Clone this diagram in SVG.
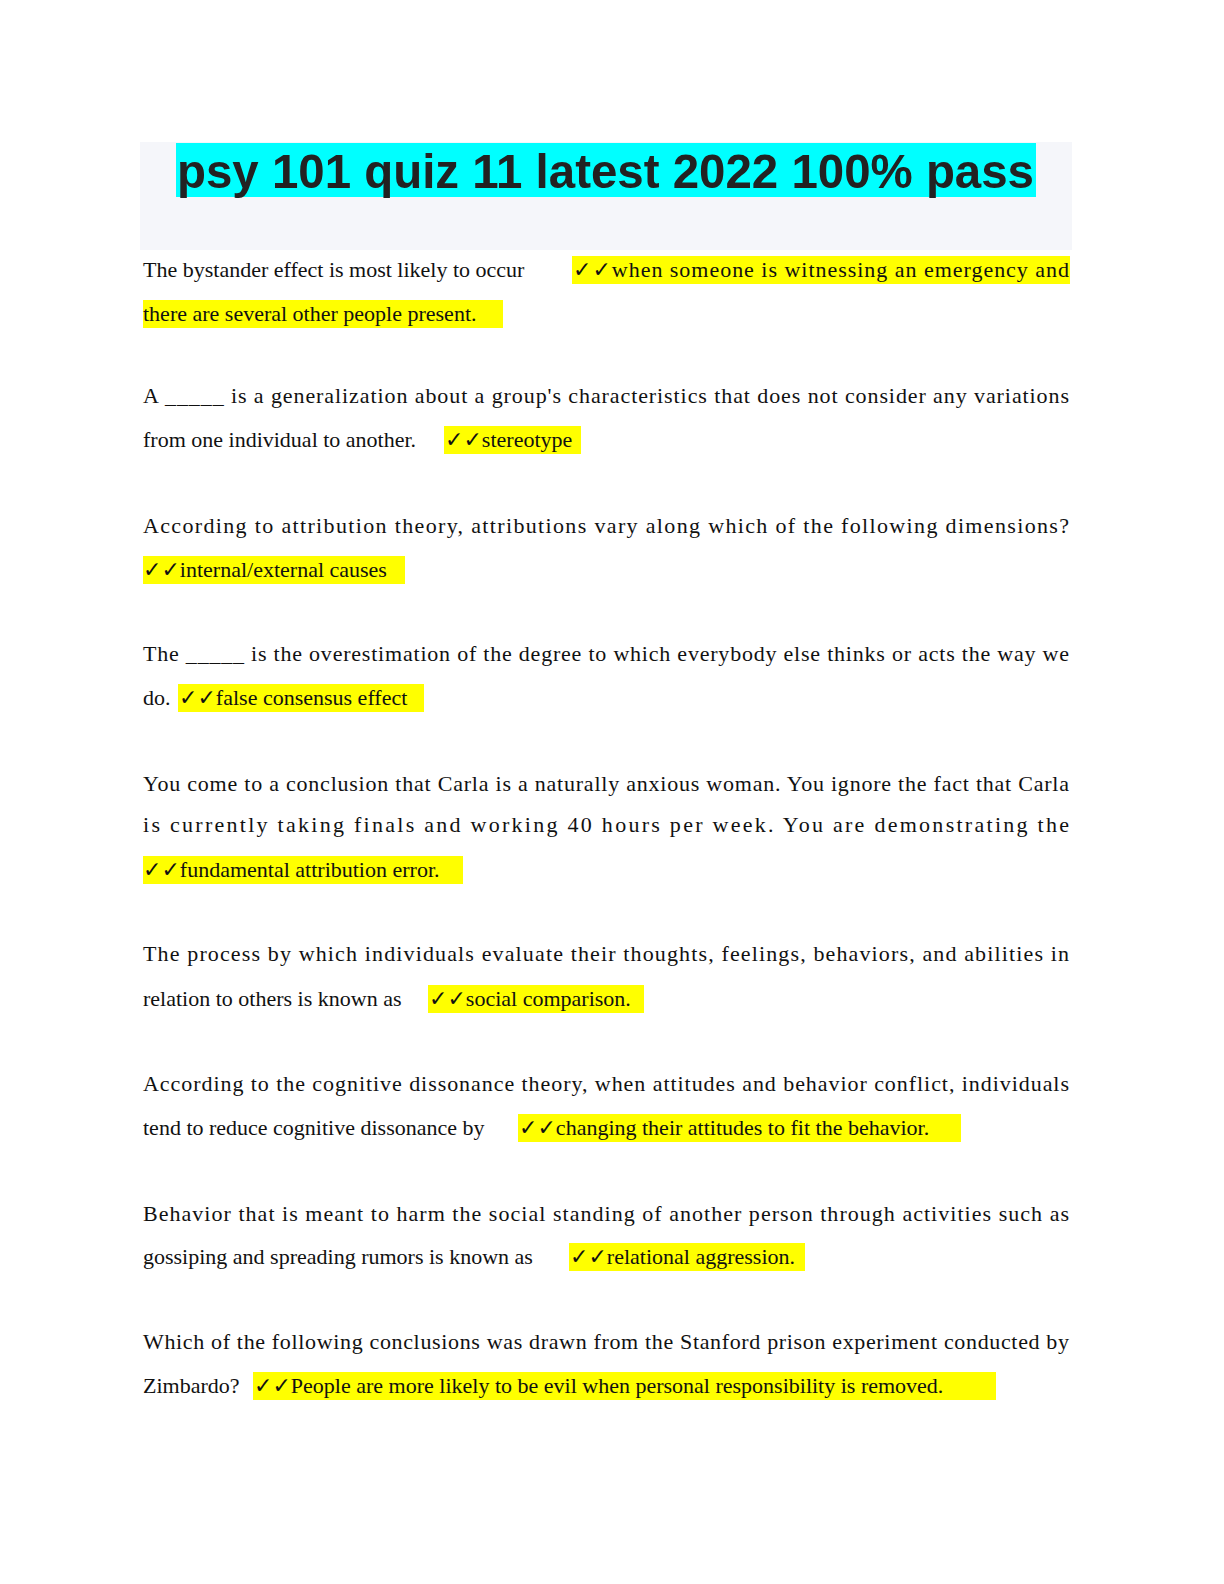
<svg xmlns="http://www.w3.org/2000/svg" width="1224" height="1584" viewBox="0 0 1224 1584">
<style>
.t{font-family:"Liberation Serif","DejaVu Sans",serif;font-size:22px;fill:#111}
.h{fill:#ffff00}
.title{font-family:"Liberation Sans",Arial,sans-serif;font-size:49px;font-weight:bold;fill:#222}
</style>
<rect width="1224" height="1584" fill="#fff"/>
<rect x="140" y="142" width="932" height="108" fill="#f5f6fa"/>
<rect x="176" y="143" width="860" height="54" fill="#00ffff"/>
<text class="title" x="177" y="188" textLength="857" lengthAdjust="spacingAndGlyphs">psy 101 quiz 11 latest 2022 100% pass</text>
<g>
<rect class="h" x="572" y="256" width="498" height="28"/>
<rect class="h" x="143" y="300" width="360" height="28"/>
<rect class="h" x="444" y="426" width="137" height="28"/>
<rect class="h" x="143" y="556" width="262" height="28"/>
<rect class="h" x="178" y="684" width="246" height="28"/>
<rect class="h" x="143" y="856" width="320" height="28"/>
<rect class="h" x="428" y="985" width="216" height="28"/>
<rect class="h" x="518" y="1114" width="443" height="28"/>
<rect class="h" x="569" y="1243" width="236" height="28"/>
<rect class="h" x="253" y="1372" width="743" height="28"/>
</g>
<g class="t">
<text x="143" y="277">The bystander effect is most likely to occur</text>
<text x="573" y="277" textLength="496" lengthAdjust="spacing">✓✓when someone is witnessing an emergency and</text>
<text x="143" y="321">there are several other people present.</text>
<text x="143" y="403" textLength="926" lengthAdjust="spacing">A _____ is a generalization about a group's characteristics that does not consider any variations</text>
<text x="143" y="447">from one individual to another.</text>
<text x="445" y="447">✓✓stereotype</text>
<text x="143" y="533" textLength="926" lengthAdjust="spacing">According to attribution theory, attributions vary along which of the following dimensions?</text>
<text x="143" y="577">✓✓internal/external causes</text>
<text x="143" y="661" textLength="926" lengthAdjust="spacing">The _____ is the overestimation of the degree to which everybody else thinks or acts the way we</text>
<text x="143" y="705">do.</text>
<text x="179" y="705">✓✓false consensus effect</text>
<text x="143" y="791" textLength="926" lengthAdjust="spacing">You come to a conclusion that Carla is a naturally anxious woman. You ignore the fact that Carla</text>
<text x="143" y="832" textLength="926" lengthAdjust="spacing">is currently taking finals and working 40 hours per week. You are demonstrating the</text>
<text x="143" y="877">✓✓fundamental attribution error.</text>
<text x="143" y="961" textLength="926" lengthAdjust="spacing">The process by which individuals evaluate their thoughts, feelings, behaviors, and abilities in</text>
<text x="143" y="1006">relation to others is known as</text>
<text x="429" y="1006">✓✓social comparison.</text>
<text x="143" y="1091" textLength="926" lengthAdjust="spacing">According to the cognitive dissonance theory, when attitudes and behavior conflict, individuals</text>
<text x="143" y="1135">tend to reduce cognitive dissonance by</text>
<text x="519" y="1135">✓✓changing their attitudes to fit the behavior.</text>
<text x="143" y="1221" textLength="926" lengthAdjust="spacing">Behavior that is meant to harm the social standing of another person through activities such as</text>
<text x="143" y="1264">gossiping and spreading rumors is known as</text>
<text x="570" y="1264">✓✓relational aggression<tspan>.</tspan></text>
<text x="143" y="1349" textLength="926" lengthAdjust="spacing">Which of the following conclusions was drawn from the Stanford prison experiment conducted by</text>
<text x="143" y="1393">Zimbardo?</text>
<text x="254" y="1393">✓✓People are more likely to be evil when personal responsibility is removed.</text>
</g>
</svg>
